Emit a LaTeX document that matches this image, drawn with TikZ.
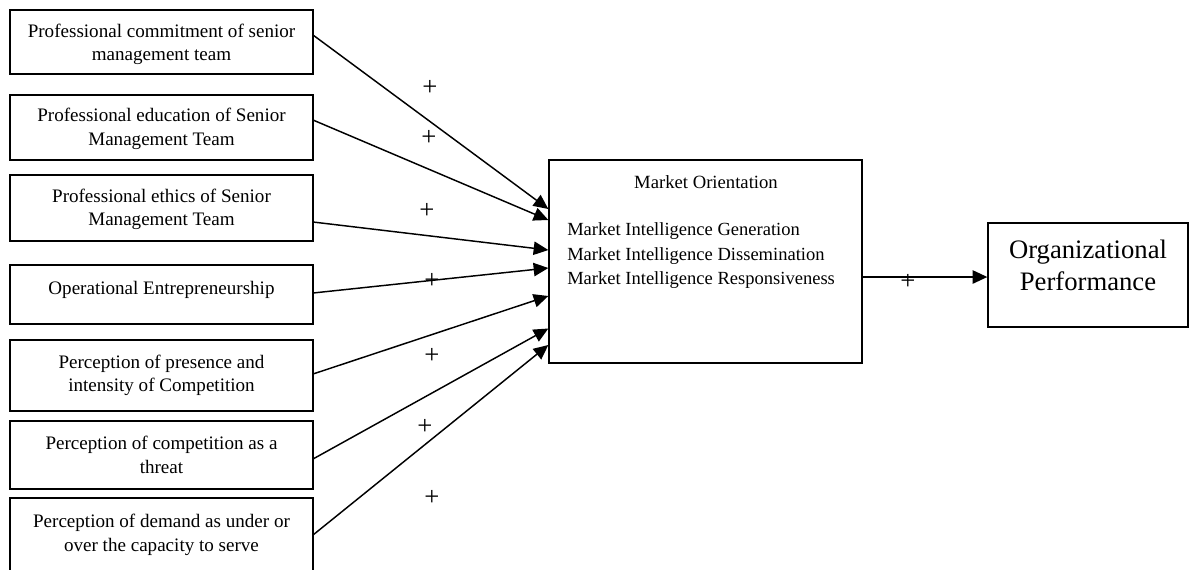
\documentclass[tikz,border=0pt]{standalone}
\usepackage{fontspec}
\setmainfont{Liberation Serif}
\usetikzlibrary{arrows.meta,calc}
\tikzset{
  factor/.style={draw, line width=1pt, minimum width=227.25pt, inner sep=0pt, outer sep=0pt,
    align=center, font=\fontsize{14.3}{17.6}\selectfont},
  arr/.style={line width=1.1pt, -{Triangle[length=11pt,width=10pt]}},
  plus/.style={font=\fontsize{20}{20}\selectfont, inner sep=0pt}
}
\begin{document}
\begin{tikzpicture}[x=0.75pt, y=-0.75pt]
  \useasboundingbox (0,0) rectangle (1189,569);
  \clip (0,0) rectangle (1189,569);
  \node[factor, minimum height=48pt, text height=31pt] (pcm) at (161.5,42) {Professional commitment of senior\\management team};
  \node[factor, minimum height=48.75pt, text height=30pt] (ped) at (161.5,127.5) {Professional education of Senior\\Management Team};
  \node[factor, minimum height=49.5pt, text height=30pt] (pet) at (161.5,208) {Professional ethics of Senior\\Management Team};
  \node[factor, minimum height=44.25pt, text height=10pt, text depth=10pt] (oe) at (161.5,294.5) {Operational Entrepreneurship};
  \node[factor, minimum height=53.25pt] (ppc) at (161.5,375.5) {Perception of presence and\\intensity of Competition};
  \node[factor, minimum height=51pt] (pct) at (161.5,455) {Perception of competition as a\\threat};
  \node[factor, minimum height=67.5pt, text depth=15pt] (pdc) at (161.5,543) {Perception of demand as under or\\over the capacity to serve};

  \node[draw, line width=1pt, minimum width=234.75pt, minimum height=152.25pt, inner sep=0pt] (mo) at (705.5,261.5) {};
  \node[font=\fontsize{14}{17.6}\selectfont, inner sep=0pt] (mot) at (706,182) {Market Orientation};
  \node[anchor=west, align=left, font=\fontsize{13.9}{18.4}\selectfont, inner sep=0pt] (moi) at (567,256)
    {Market Intelligence Generation\\Market Intelligence Dissemination\\Market Intelligence Responsiveness};

  \node[draw, line width=1pt, minimum width=150pt, minimum height=78pt, inner sep=0pt, align=center,
    font=\fontsize{20}{24}\selectfont, text depth=15pt] (op) at (1088,275) {Organizational\\Performance};

  \draw[arr] ($(pcm.east)+(0,-7)$) -- ($(mo.west)+(0,-52.5)$);
  \draw[arr] ($(ped.east)+(0,-7.5)$) -- ($(mo.west)+(0,-41.5)$);
  \draw[arr] ($(pet.east)+(0,14)$) -- ($(mo.west)+(0,-11.5)$);
  \draw[arr] ($(oe.east)+(0,-1.5)$) -- ($(mo.west)+(0,6.5)$);
  \draw[arr] ($(ppc.east)+(0,-1.5)$) -- ($(mo.west)+(0,34.5)$);
  \draw[arr] ($(pct.east)+(0,4)$) -- ($(mo.west)+(0,67)$);
  \draw[arr] ($(pdc.east)+(0,-8)$) -- ($(mo.west)+(0,83.5)$);
  \draw[arr] ($(mo.east)+(0,15.5)$) -- ($(op.west)+(0,2)$);

  \node[plus] (p1) at (430,88) {+};
  \node[plus] (p2) at (429,138) {+};
  \node[plus] (p3) at (427,211) {+};
  \node[plus] (p4) at (432,281) {+};
  \node[plus] (p5) at (432,356) {+};
  \node[plus] (p6) at (425,427) {+};
  \node[plus] (p7) at (432,498) {+};
  \node[plus] (p8) at (908,282) {+};
\end{tikzpicture}
\end{document}
